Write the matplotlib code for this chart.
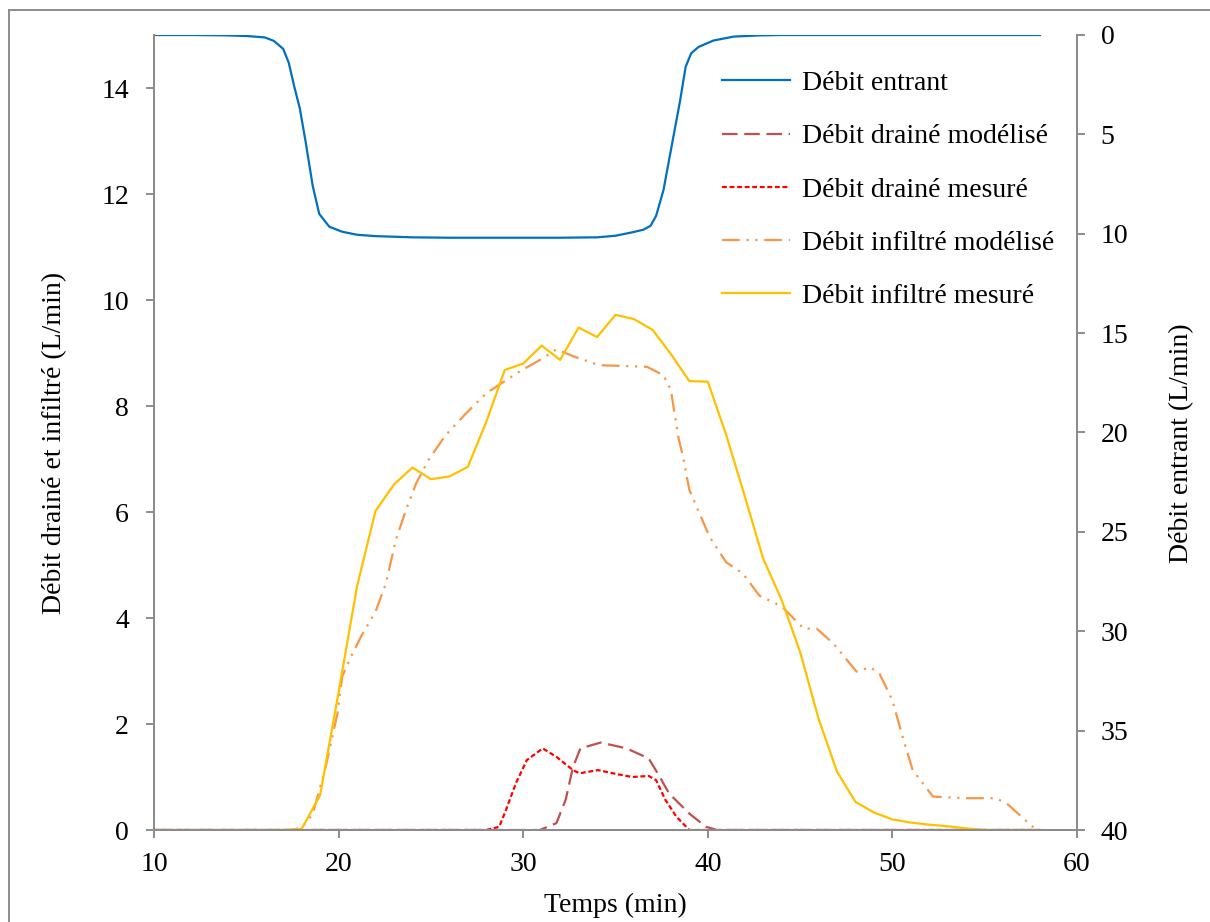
import matplotlib
matplotlib.use("Agg")
import matplotlib.pyplot as plt
from matplotlib.lines import Line2D

plt.rcParams['font.family'] = ['Liberation Serif', 'DejaVu Serif']
plt.rcParams['font.size'] = 20

# Débit entrant (secondary axis, inverted)
t_in = [10, 12, 14, 15, 16, 16.5, 17, 17.3, 17.6, 17.9, 18.2, 18.6, 18.95, 19.5, 20.2,
        21, 22, 24, 26, 28, 30, 32, 34, 35, 35.9, 36.5, 36.9, 37.2, 37.6, 38, 38.5,
        38.8, 39.1, 39.5, 40.3, 41.4, 42.8, 44, 46, 50, 54, 58]
q_in = [0, 0, 0.02, 0.05, 0.12, 0.3, 0.7, 1.4, 2.6, 3.7, 5.3, 7.6, 9.0, 9.65, 9.9,
        10.05, 10.12, 10.18, 10.2, 10.2, 10.2, 10.2, 10.18, 10.1, 9.93, 9.8, 9.6, 9.1,
        7.8, 5.8, 3.3, 1.6, 0.92, 0.6, 0.28, 0.08, 0.02, 0, 0, 0, 0, 0]

# Débit drainé modélisé
t_dm = [10, 15, 20, 25, 30, 30.9, 31.8, 32.3, 32.7, 33.1, 34.2, 35.6, 36.8, 37.4,
        37.9, 39.0, 39.9, 40.5, 45, 50, 55, 58]
q_dm = [0, 0, 0, 0, 0, 0, 0.13, 0.57, 1.19, 1.54, 1.65, 1.54, 1.35, 1.0,
        0.69, 0.31, 0.06, 0, 0, 0, 0, 0]

# Débit drainé mesuré
t_dr = [10, 15, 20, 25, 28, 28.7, 29.07, 29.6, 30.2, 31.06, 31.8, 32.7, 33.05, 34.05,
        35.0, 35.9, 36.8, 37.2, 37.7, 38.3, 39.0, 40, 45, 50, 55, 58]
q_dr = [0, 0, 0, 0, 0, 0.06, 0.38, 0.88, 1.32, 1.54, 1.38, 1.13, 1.07, 1.13,
        1.06, 1.0, 1.02, 0.94, 0.57, 0.25, 0, 0, 0, 0, 0, 0]

# Débit infiltré modélisé
t_im = [10, 12, 14, 16, 17, 17.5, 18, 18.6, 19.3, 19.94, 20.2, 20.67, 21.2, 22.0, 22.56,
        23.1, 23.65, 24.2, 24.9, 25.8, 26.9, 28.0, 28.7, 29.8, 31.06, 31.8, 32.7, 34.1,
        36.7, 37.6, 38.0, 38.4, 38.65, 39.0, 39.55, 40.1, 41.0, 41.9, 42.8, 44.0, 45.2,
        45.9, 46.8, 48.05, 48.8, 49.3, 50.0, 50.6, 51.1, 52.2, 54.0, 55.6, 56.2, 57.0,
        57.6, 58]
q_im = [0, 0, 0, 0, 0, 0, 0.05, 0.3, 1.19, 2.2, 2.9, 3.27, 3.64, 4.12, 4.65,
        5.47, 6.04, 6.54, 7.0, 7.45, 7.86, 8.24, 8.4, 8.65, 8.9, 9.07, 8.94, 8.77,
        8.74, 8.58, 8.3, 7.42, 7.05, 6.42, 5.97, 5.53, 5.05, 4.84, 4.42, 4.22, 3.8,
        3.8, 3.52, 2.99, 3.07, 2.95, 2.45, 1.7, 1.13, 0.63, 0.6, 0.6, 0.5, 0.25,
        0.06, 0]

# Débit infiltré mesuré
t_ir = list(range(10, 59))
q_ir = [0, 0, 0, 0, 0, 0, 0, 0, 0.02, 0.66, 2.6, 4.6, 6.02, 6.52, 6.84, 6.62, 6.67,
        6.85, 7.7, 8.68, 8.8, 9.14, 8.87, 9.48, 9.3, 9.72, 9.64, 9.44, 8.98, 8.47, 8.46,
        7.45, 6.3, 5.12, 4.34, 3.36, 2.1, 1.1, 0.53, 0.33, 0.2, 0.14, 0.1, 0.07, 0.03,
        0, 0, 0, 0]

fig = plt.figure(figsize=(12.1, 9.22), dpi=100)
ax = fig.add_axes([154 / 1210, 1 - 830 / 922, 923 / 1210, 795 / 922])
ax2 = ax.twinx()

lw = 1.6
l_dm, = ax.plot(t_dm, q_dm, color='#C0504D', lw=lw, ls=(0, (7, 3)))
l_dr, = ax.plot(t_dr, q_dr, color='#FF0000', lw=lw, ls=(0, (2.2, 1.2)))
l_im, = ax.plot(t_im, q_im, color='#F79646', lw=lw, ls=(0, (8, 3, 1, 3, 1, 3)))
l_ir, = ax.plot(t_ir, q_ir, color='#FFC000', lw=lw)
l_in, = ax2.plot(t_in, q_in, color='#0070C0', lw=lw)

ax.set_xlim(10, 60)
ax.set_ylim(0, 15)
ax.set_yticks(range(0, 15, 2))
ax.set_xticks(range(10, 61, 10))
ax2.set_ylim(40, 0)
ax2.set_yticks(range(0, 41, 5))

spine_c = '#8c8c8c'
for a in (ax, ax2):
    a.spines['top'].set_visible(False)
    for s in ('left', 'right', 'bottom'):
        a.spines[s].set_color(spine_c)
        a.spines[s].set_linewidth(1.4)
    a.tick_params(colors=spine_c, labelcolor='black', width=1.4, length=6, direction='out')
ax.tick_params(axis='y', pad=12)
ax.tick_params(axis='x', pad=10)
ax2.tick_params(axis='y', pad=11)

ax.set_xlabel('Temps (min)')
ax.xaxis.set_label_coords(0.5, -0.079)
ax.set_ylabel('Débit drainé et infiltré (L/min)')
ax.yaxis.set_label_coords(-0.094, 0.487)
ax2.set_ylabel('Débit entrant (L/min)')
ax2.yaxis.set_label_coords(1.1, 0.487)

leg = ax.legend([l_in, l_dm, l_dr, l_im, l_ir],
                ['Débit entrant', 'Débit drainé modélisé', 'Débit drainé mesuré',
                 'Débit infiltré modélisé', 'Débit infiltré mesuré'],
                loc='upper left', bbox_to_anchor=(0.603, 0.969), frameon=False,
                handlelength=2.45, handletextpad=0.45, labelspacing=1.0, borderaxespad=0)

# outer chart border
fig.add_artist(Line2D([9 / 1210, 9 / 1210], [0, 1 - 10 / 922], color=spine_c, lw=1.4))
fig.add_artist(Line2D([9 / 1210, 1], [1 - 10 / 922, 1 - 10 / 922], color=spine_c, lw=1.4))

fig.savefig('out.png', dpi=100)
